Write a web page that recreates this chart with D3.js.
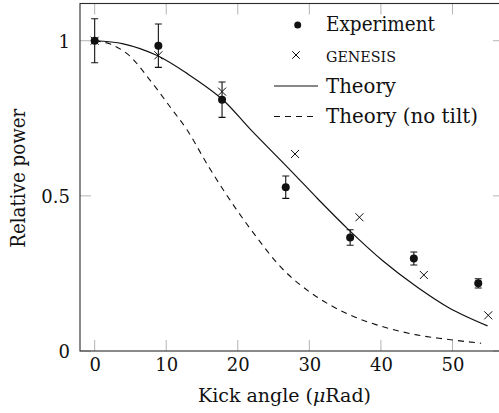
<!DOCTYPE html>
<html><head><meta charset="utf-8">
<script src="https://cdn.jsdelivr.net/npm/d3@7"></script>
<style>
body{margin:0;background:#fff}
svg{display:block}
text{font-family:"DejaVu Serif","Liberation Serif",serif;fill:#111}
</style>
</head><body>
<svg id="c" width="499" height="413"></svg>
<script>
// ---- data ----
const expAngle = [0, 8.9, 17.8, 26.7, 35.7, 44.6, 53.6];
const expPower = [1.0, 0.984, 0.81, 0.528, 0.366, 0.298, 0.218];
const expError = [0.071, 0.07, 0.057, 0.036, 0.025, 0.021, 0.015];

const genesisAngle = [0, 8.9, 17.8, 28.0, 37.0, 46.0, 55.0];
const genesisPower = [1.0, 0.953, 0.836, 0.635, 0.431, 0.245, 0.115];

const theoryAngle = [0, 4, 8.66, 13, 17.9, 21.7, 27.3, 31.2, 35.4, 40.3, 45.0, 49.6, 54.9];
const theoryPower = [1.0, 0.99, 0.953, 0.893, 0.81, 0.716, 0.584, 0.49, 0.393, 0.29, 0.207, 0.138, 0.081];

const noTiltAngle = [0, 2.1, 4.7, 7.7, 10.5, 12.9, 15.9, 18.9, 22.2, 26.4, 31.0, 35.7, 40.3, 45.0, 49.5, 54.0];
const noTiltPower = [1.0, 0.99, 0.955, 0.874, 0.788, 0.713, 0.595, 0.487, 0.38, 0.261, 0.175, 0.116, 0.078, 0.052, 0.037, 0.025];

const xTicks = [0, 10, 20, 30, 40, 50];
const yTicks = [0, 0.5, 1];
const yTickLabels = ["0", "0.5", "1"];
const legendLabels = ["Experiment", "GENESIS", "Theory", "Theory (no tilt)"];

// ---- layout ----
const L = 80, R = 504, T = 3.5, B = 351;
const FONT = '"DejaVu Serif","Liberation Serif",serif';
const svg = d3.select("#c");
const x = d3.scaleLinear().domain([-2.05, 57.2]).range([L, R]);
const y = d3.scaleLinear().domain([0, 1.12]).range([B, T]);
const tickLen = 11;
const tickColor = "#b4b4b4";

// ticks (inward, on all four sides)
const g = svg.append("g");
xTicks.forEach(v => {
  g.append("line").attr("x1", x(v)).attr("x2", x(v)).attr("y1", B).attr("y2", B - tickLen)
    .attr("stroke", tickColor).attr("stroke-width", 1);
  g.append("line").attr("x1", x(v)).attr("x2", x(v)).attr("y1", T).attr("y2", T + tickLen)
    .attr("stroke", tickColor).attr("stroke-width", 1);
});
yTicks.forEach(v => {
  g.append("line").attr("x1", L).attr("x2", L + tickLen).attr("y1", y(v)).attr("y2", y(v))
    .attr("stroke", tickColor).attr("stroke-width", 1);
  g.append("line").attr("x1", R).attr("x2", R - tickLen).attr("y1", y(v)).attr("y2", y(v))
    .attr("stroke", tickColor).attr("stroke-width", 1);
});

// axes via d3 axis (labels only)
const xAxis = svg.append("g").attr("transform", `translate(0,${B})`)
  .call(d3.axisBottom(x).tickValues(xTicks).tickSize(0).tickPadding(7).tickFormat(d3.format("d")));
const yAxis = svg.append("g").attr("transform", `translate(${L},0)`)
  .call(d3.axisLeft(y).tickValues(yTicks).tickSize(0).tickPadding(10).tickFormat((d, i) => yTickLabels[i]));
[xAxis, yAxis].forEach(a => {
  a.select(".domain").remove();
  a.selectAll("text").attr("font-family", FONT).attr("font-size", 18).attr("fill", "#111");
});
xAxis.selectAll("text").attr("dy", "0.71em");
yAxis.selectAll("text").attr("dy", "0.36em");

// frame
svg.append("rect").attr("x", L).attr("y", T).attr("width", R - L).attr("height", B - T)
  .attr("fill", "none").attr("stroke", "#2a2a2a").attr("stroke-width", 1.1);

// curves
const line = d3.line().x(d => x(d[0])).y(d => y(d[1])).curve(d3.curveCatmullRom.alpha(0.5));
svg.append("path").datum(d3.zip(noTiltAngle, noTiltPower)).attr("d", line)
  .attr("fill", "none").attr("stroke", "#111").attr("stroke-width", 1.1).attr("stroke-dasharray", "6,5");
svg.append("path").datum(d3.zip(theoryAngle, theoryPower)).attr("d", line)
  .attr("fill", "none").attr("stroke", "#111").attr("stroke-width", 1.2);

// GENESIS crosses
const cs = 4;
const cross = (cx, cy) => `M${cx - cs},${cy - cs}L${cx + cs},${cy + cs}M${cx - cs},${cy + cs}L${cx + cs},${cy - cs}`;
svg.append("g").selectAll("path").data(d3.zip(genesisAngle, genesisPower)).join("path")
  .attr("d", d => cross(x(d[0]), y(d[1]))).attr("stroke", "#111").attr("stroke-width", 1).attr("fill", "none");

// experiment with error bars
const eg = svg.append("g");
const expData = d3.zip(expAngle, expPower, expError);
eg.selectAll("path.err").data(expData).join("path").attr("class", "err")
  .attr("d", d => {
    const cx = x(d[0]), y1 = y(d[1] + d[2]), y2 = y(d[1] - d[2]), c = 3.5;
    return `M${cx},${y1}L${cx},${y2}M${cx - c},${y1}L${cx + c},${y1}M${cx - c},${y2}L${cx + c},${y2}`;
  })
  .attr("stroke", "#111").attr("stroke-width", 1.1).attr("fill", "none");
eg.selectAll("circle").data(expData).join("circle")
  .attr("cx", d => x(d[0])).attr("cy", d => y(d[1])).attr("r", 4).attr("fill", "#111");

// legend
const lg = svg.append("g");
const rowsY = [25, 55, 86, 116.5];
const tx = 326;
lg.append("circle").attr("cx", 297.7).attr("cy", rowsY[0]).attr("r", 3.5).attr("fill", "#111");
lg.append("path").attr("d", (() => { const cx = 296, cy = rowsY[1], s = 3.8; return `M${cx - s},${cy - s}L${cx + s},${cy + s}M${cx - s},${cy + s}L${cx + s},${cy - s}`; })())
  .attr("stroke", "#111").attr("stroke-width", 1);
lg.append("line").attr("x1", 274).attr("x2", 318).attr("y1", rowsY[2]).attr("y2", rowsY[2])
  .attr("stroke", "#111").attr("stroke-width", 1.2);
lg.append("line").attr("x1", 274).attr("x2", 318).attr("y1", rowsY[3]).attr("y2", rowsY[3])
  .attr("stroke", "#111").attr("stroke-width", 1.1).attr("stroke-dasharray", "6,5");

lg.append("text").attr("x", tx).attr("y", 30.5).attr("font-size", 20)
  .attr("textLength", 109).attr("lengthAdjust", "spacingAndGlyphs").text(legendLabels[0]);
lg.append("text").attr("x", tx).attr("y", 61.5).attr("font-size", 14)
  .attr("textLength", 70).attr("lengthAdjust", "spacingAndGlyphs").text(legendLabels[1]);
lg.append("text").attr("x", tx).attr("y", 92.5).attr("font-size", 20)
  .attr("textLength", 70).attr("lengthAdjust", "spacingAndGlyphs").text(legendLabels[2]);
lg.append("text").attr("x", tx).attr("y", 123).attr("font-size", 20)
  .attr("textLength", 152).attr("lengthAdjust", "spacingAndGlyphs").text(legendLabels[3]);

// axis labels
const xl = svg.append("text").attr("x", 284.5).attr("y", 401.5).attr("font-size", 19)
  .attr("text-anchor", "middle");
xl.append("tspan").text("Kick angle (");
xl.append("tspan").attr("font-style", "italic").text("μ");
xl.append("tspan").text("Rad)");

svg.append("text").attr("transform", `translate(25,${(T + B) / 2 + 1}) rotate(-90)`)
  .attr("text-anchor", "middle").attr("font-size", 20)
  .attr("textLength", 139).attr("lengthAdjust", "spacingAndGlyphs").text("Relative power");
</script>
</body></html>
